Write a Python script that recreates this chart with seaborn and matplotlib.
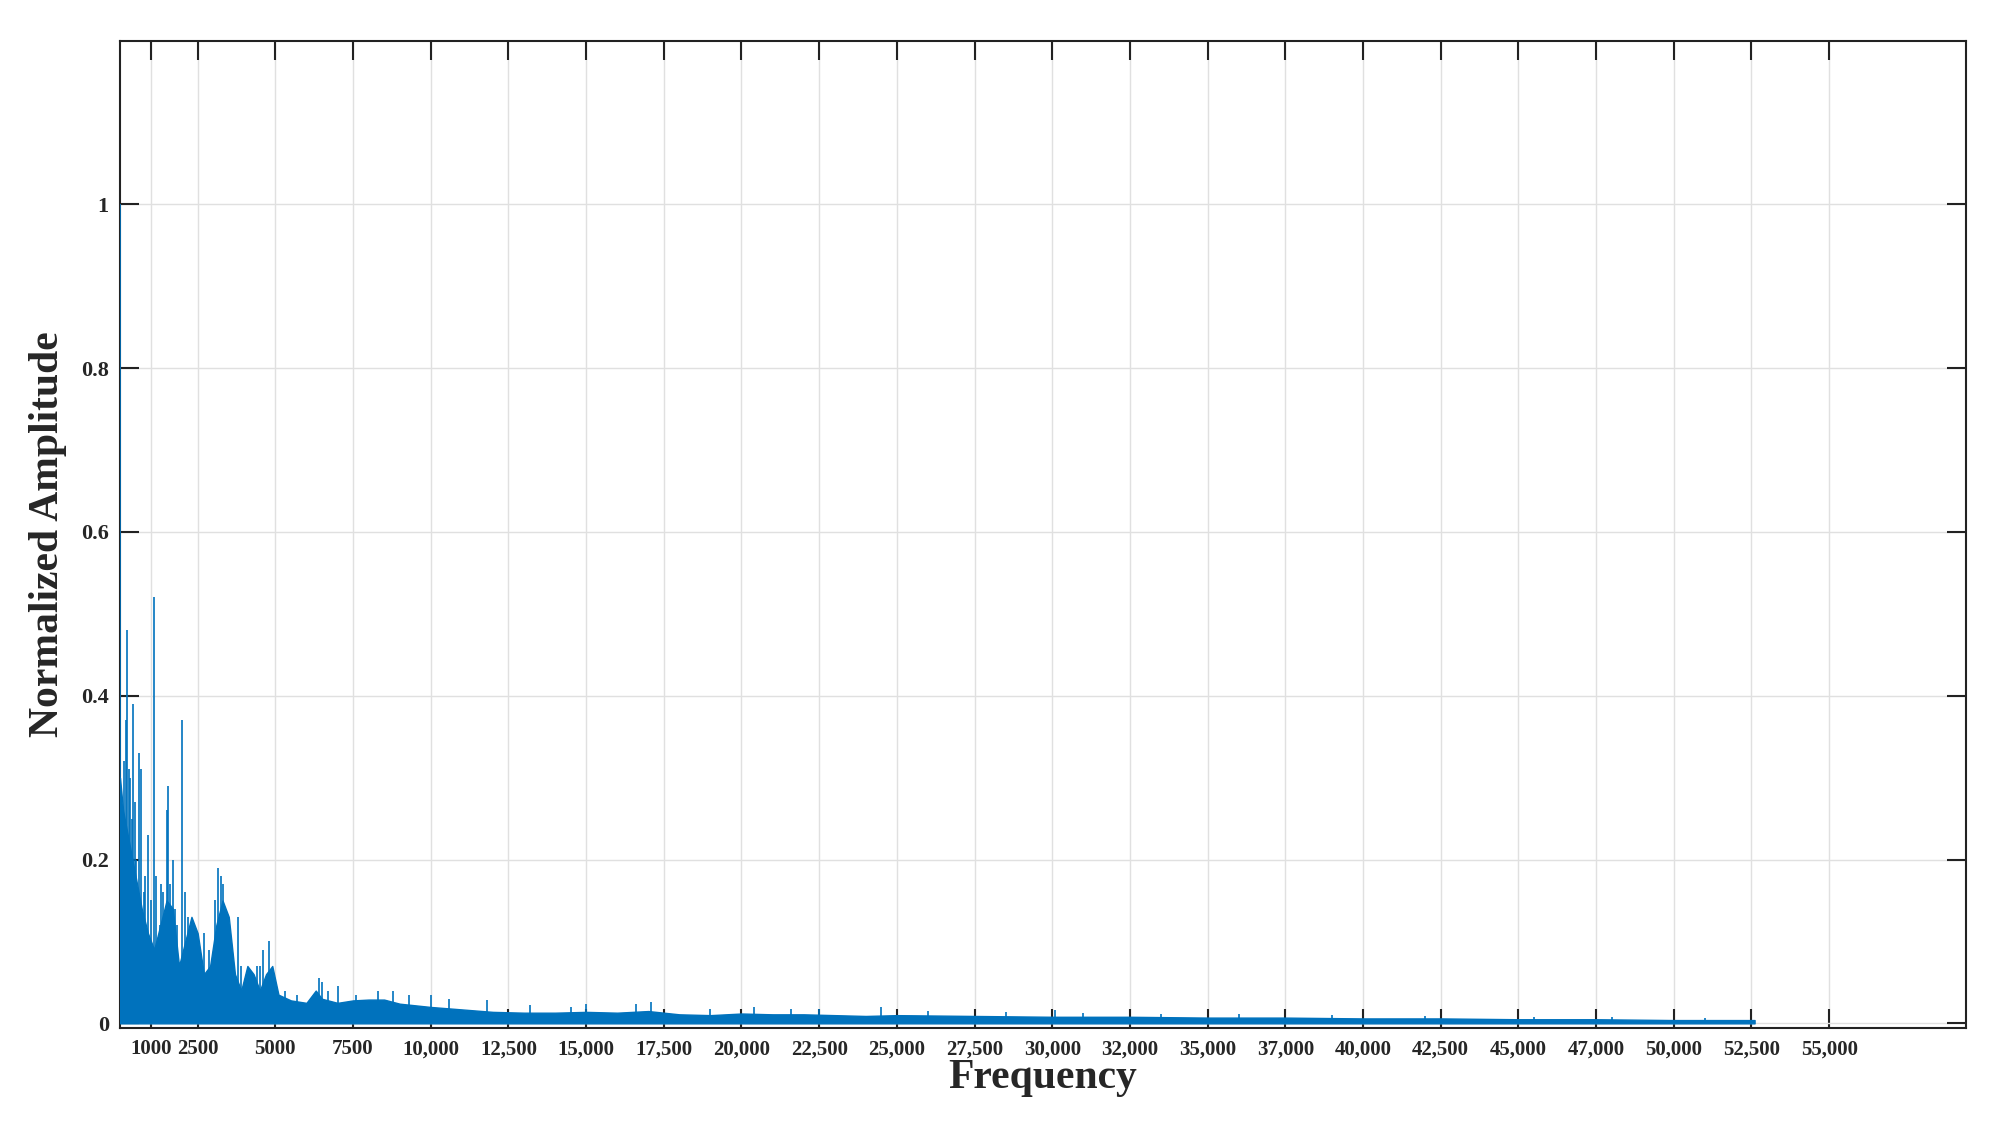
import matplotlib
matplotlib.use("Agg")
import matplotlib.pyplot as plt
import seaborn as sns

# -------------------------
# Data
# -------------------------
# upper edge of the dense spectrum body (freq, amplitude)
env_freq = [0, 100, 300, 500, 700, 900, 1100, 1300, 1500, 1700, 1900, 2100, 2300, 2500,
            2700, 2900, 3100, 3300, 3500, 3700, 3900, 4100, 4300, 4500, 4700, 4900,
            5100, 5500, 6000, 6300, 6500, 7000, 7500, 8000, 8500, 9000, 9500, 10000,
            11000, 12000, 13000, 14000, 15000, 16000, 17000, 18000, 19000, 20000,
            21000, 22000, 23000, 24000, 25000, 27500, 30000, 32500, 35000, 37500,
            40000, 42500, 45000, 47500, 50000, 52600]
env_amp = [0.30, 0.26, 0.22, 0.18, 0.14, 0.11, 0.09, 0.12, 0.15, 0.14, 0.07, 0.10,
           0.13, 0.11, 0.06, 0.07, 0.12, 0.15, 0.13, 0.06, 0.04, 0.07, 0.06, 0.04,
           0.06, 0.07, 0.035, 0.028, 0.025, 0.04, 0.03, 0.025, 0.028, 0.029, 0.029,
           0.024, 0.022, 0.02, 0.017, 0.014, 0.013, 0.013, 0.014, 0.013, 0.015,
           0.011, 0.010, 0.012, 0.011, 0.011, 0.010, 0.009, 0.010, 0.009, 0.008,
           0.008, 0.007, 0.007, 0.006, 0.006, 0.005, 0.005, 0.004, 0.004]

# distinct spikes above the body (freq, amplitude)
spike_freq = [5, 60, 120, 180, 230, 280, 330, 380, 430, 470, 520, 560, 620, 680,
              760, 820, 900, 1000, 1080, 1150, 1220, 1280, 1330, 1400, 1500, 1560,
              1620, 1700, 1760, 1850, 2000, 2100, 2180, 2250, 2350, 2480, 2550, 2700,
              2850, 3050, 3150, 3250, 3330, 3400, 3600, 3800, 3900, 4400, 4500, 4600,
              4800, 5300, 5700, 6400, 6500, 6700, 7000, 7600, 8300, 8800, 9300, 10000,
              10600, 11800, 13200, 14500, 15000, 16600, 17100, 19000, 20400, 21600,
              22500, 24500, 26000, 28500, 30100, 31000, 33500, 36000, 39000, 42000,
              45500, 48000, 51000]
spike_amp = [1.0, 0.15, 0.32, 0.37, 0.48, 0.31, 0.30, 0.25, 0.39, 0.27, 0.20, 0.14,
             0.33, 0.31, 0.16, 0.18, 0.23, 0.15, 0.52, 0.18, 0.10, 0.12, 0.17, 0.16,
             0.26, 0.29, 0.17, 0.20, 0.14, 0.12, 0.37, 0.16, 0.13, 0.09, 0.08, 0.07,
             0.08, 0.11, 0.09, 0.15, 0.19, 0.18, 0.17, 0.10, 0.08, 0.13, 0.07, 0.07,
             0.07, 0.09, 0.10, 0.04, 0.035, 0.055, 0.05, 0.04, 0.045, 0.035, 0.04,
             0.04, 0.035, 0.035, 0.03, 0.028, 0.022, 0.02, 0.024, 0.024, 0.026,
             0.018, 0.02, 0.018, 0.017, 0.02, 0.015, 0.014, 0.016, 0.013, 0.012,
             0.011, 0.01, 0.009, 0.008, 0.008, 0.007]

tick_pos = [1000, 2500, 5000, 7500, 10000, 12500, 15000, 17500, 20000, 22500, 25000,
            27500, 30000, 32500, 35000, 37500, 40000, 42500, 45000, 47500, 50000,
            52500, 55000]
tick_lbl = ["1000", "2500", "5000", "7500", "10,000", "12,500", "15,000", "17,500",
            "20,000", "22,500", "25,000", "27,500", "30,000", "32,000", "35,000",
            "37,000", "40,000", "42,500", "45,000", "47,000", "50,000", "52,500",
            "55,000"]

# -------------------------
# Plot
# -------------------------
sns.set_style("whitegrid")
plt.rcParams["font.family"] = ["Liberation Serif", "DejaVu Serif"]

fig = plt.figure(figsize=(20.13, 11.25), dpi=100)
ax = fig.add_axes([0.0596, 0.086, 0.917, 0.878])

blue = "#0072BD"
ax.fill_between(env_freq, 0, env_amp, color=blue, linewidth=1.0, zorder=3)
ax.vlines(spike_freq, 0, spike_amp, color=blue, linewidth=1.2, zorder=3)

ax.set_xlim(0, 59400)
ax.set_ylim(-0.006, 1.2)
ax.set_xticks(tick_pos)
ax.set_xticklabels(tick_lbl, fontsize=15, fontweight="bold")
ax.set_yticks([0, 0.2, 0.4, 0.6, 0.8, 1.0])
ax.set_yticklabels(["0", "0.2", "0.4", "0.6", "0.8", "1"], fontsize=16, fontweight="bold")
ax.tick_params(direction="in", length=14, width=1.5, top=True, right=True,
               bottom=True, left=True, color="#222222", pad=8)
ax.grid(True, color="#e0e0e0", linewidth=1)
for sp in ax.spines.values():
    sp.set_visible(True)
    sp.set_color("#222222")
    sp.set_linewidth(1.5)

ax.set_xlabel("Frequency", fontsize=30, fontweight="bold", labelpad=0)
ax.set_ylabel("Normalized Amplitude", fontsize=30, fontweight="bold", labelpad=10)

fig.savefig("out.png", dpi=100)
